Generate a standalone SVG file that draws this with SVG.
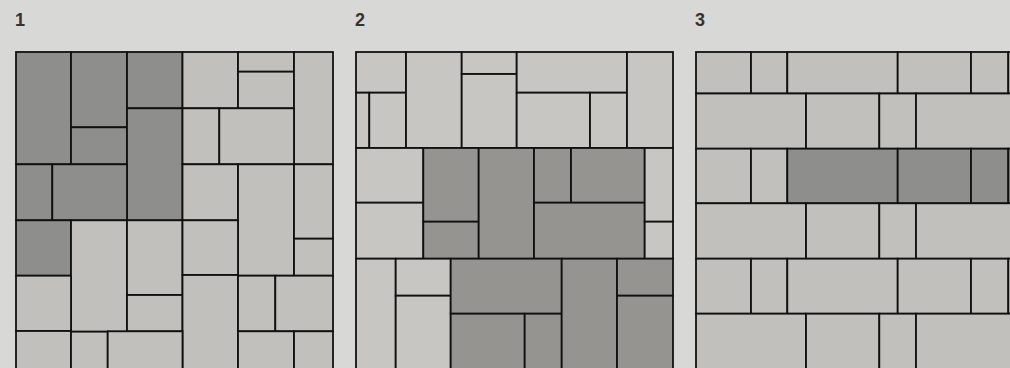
<svg xmlns="http://www.w3.org/2000/svg" width="1010" height="368" viewBox="0 0 1010 368">
<style>
rect.t{stroke:#111;stroke-width:1.8}
.l1{fill:#c1c0bc}.d1{fill:#8e8e8c}
.l2{fill:#c7c6c2}.d2{fill:#959491}
.lab{font-family:"Liberation Sans",Arial,sans-serif;font-size:18px;font-weight:bold;fill:#333}
</style>
<rect width="1010" height="368" fill="#d8d8d6"/>
<g id="labels">
<text class="lab" x="15" y="26">1</text>
<text class="lab" x="355" y="26">2</text>
<text class="lab" x="695" y="26">3</text>
</g>
<g id="panel1">
<rect class="t d1" x="16" y="52" width="55" height="112.3"/>
<rect class="t d1" x="71" y="52" width="56" height="75.3"/>
<rect class="t d1" x="71" y="127.3" width="56" height="37"/>
<rect class="t d1" x="127" y="52" width="55.5" height="56.3"/>
<rect class="t d1" x="127" y="108.3" width="55.5" height="112"/>
<rect class="t d1" x="16" y="164.3" width="36.3" height="56"/>
<rect class="t d1" x="52.3" y="164.3" width="74.7" height="56"/>
<rect class="t d1" x="16" y="220.3" width="55" height="55.4"/>
<rect class="t l1" x="182.5" y="52" width="55.5" height="56.3"/>
<rect class="t l1" x="238" y="52" width="56" height="19.7"/>
<rect class="t l1" x="238" y="71.7" width="56" height="36.6"/>
<rect class="t l1" x="294" y="52" width="39" height="112.3"/>
<rect class="t l1" x="182.5" y="108.3" width="36.8" height="56"/>
<rect class="t l1" x="219.3" y="108.3" width="74.7" height="56"/>
<rect class="t l1" x="182.5" y="164.3" width="55.5" height="56"/>
<rect class="t l1" x="238" y="164.3" width="56" height="111.4"/>
<rect class="t l1" x="294" y="164.3" width="39" height="74.4"/>
<rect class="t l1" x="294" y="238.7" width="39" height="37"/>
<rect class="t l1" x="71" y="220.3" width="56" height="111.4"/>
<rect class="t l1" x="127" y="220.3" width="55.5" height="74.7"/>
<rect class="t l1" x="127" y="295" width="55.5" height="36.3"/>
<rect class="t l1" x="182.5" y="220.3" width="55.5" height="54.7"/>
<rect class="t l1" x="182.5" y="275" width="55.5" height="95"/>
<rect class="t l1" x="16" y="275.7" width="55" height="55.3"/>
<rect class="t l1" x="16" y="331" width="55" height="39"/>
<rect class="t l1" x="71" y="331.7" width="36.7" height="38.3"/>
<rect class="t l1" x="107.7" y="331.3" width="74.8" height="38.7"/>
<rect class="t l1" x="238" y="275.7" width="37.3" height="55.6"/>
<rect class="t l1" x="275.3" y="275.7" width="57.7" height="55.6"/>
<rect class="t l1" x="238" y="331.3" width="56" height="38.7"/>
<rect class="t l1" x="294" y="331.3" width="39" height="38.7"/>
</g>
<g id="panel2">
<rect class="t l2" x="356" y="52" width="50" height="40.7"/>
<rect class="t l2" x="356" y="92.7" width="13.3" height="55.3"/>
<rect class="t l2" x="369.3" y="92.7" width="36.7" height="55.3"/>
<rect class="t l2" x="406" y="52" width="55.7" height="96"/>
<rect class="t l2" x="461.7" y="52" width="55" height="22"/>
<rect class="t l2" x="461.7" y="74" width="55" height="74"/>
<rect class="t l2" x="516.7" y="52" width="110.3" height="40.7"/>
<rect class="t l2" x="516.7" y="92.7" width="73.3" height="55.3"/>
<rect class="t l2" x="590" y="92.7" width="37" height="55.3"/>
<rect class="t l2" x="627" y="52" width="46" height="96"/>
<rect class="t l2" x="356" y="148" width="67.3" height="54.7"/>
<rect class="t l2" x="356" y="202.7" width="67.3" height="56"/>
<rect class="t d2" x="423.3" y="148" width="55.4" height="73.7"/>
<rect class="t d2" x="423.3" y="221.7" width="55.4" height="37"/>
<rect class="t d2" x="478.7" y="148" width="55.3" height="110.7"/>
<rect class="t d2" x="534" y="148" width="37" height="54.7"/>
<rect class="t d2" x="571" y="148" width="73.7" height="54.7"/>
<rect class="t d2" x="534" y="202.7" width="110.7" height="56"/>
<rect class="t l2" x="644.7" y="148" width="28.3" height="73.7"/>
<rect class="t l2" x="644.7" y="221.7" width="28.3" height="37"/>
<rect class="t l2" x="356" y="258.7" width="39.7" height="111.3"/>
<rect class="t l2" x="395.7" y="258.7" width="55" height="37"/>
<rect class="t l2" x="395.7" y="295.7" width="55" height="74.3"/>
<rect class="t d2" x="450.7" y="258.7" width="111" height="55"/>
<rect class="t d2" x="450.7" y="313.7" width="74" height="56.3"/>
<rect class="t d2" x="524.7" y="313.7" width="37" height="56.3"/>
<rect class="t d2" x="561.7" y="258.7" width="55.3" height="111.3"/>
<rect class="t d2" x="617" y="258.7" width="56" height="37"/>
<rect class="t d2" x="617" y="295.7" width="56" height="74.3"/>
</g>
<g id="panel3">
<rect class="t l1" x="696" y="52" width="55" height="41.5"/>
<rect class="t l1" x="751" y="52" width="36.3" height="41.5"/>
<rect class="t l1" x="787.3" y="52" width="110.4" height="41.5"/>
<rect class="t l1" x="897.7" y="52" width="73.3" height="41.5"/>
<rect class="t l1" x="971" y="52" width="37.3" height="41.5"/>
<rect class="t l1" x="1008.3" y="52" width="10" height="41.5"/>
<rect class="t l1" x="696" y="93.5" width="110" height="55.2"/>
<rect class="t l1" x="806" y="93.5" width="73.3" height="55.2"/>
<rect class="t l1" x="879.3" y="93.5" width="36.7" height="55.2"/>
<rect class="t l1" x="916" y="93.5" width="100" height="55.2"/>
<rect class="t l1" x="696" y="148.7" width="55" height="54.6"/>
<rect class="t l1" x="751" y="148.7" width="36.3" height="54.6"/>
<rect class="t d1" x="787.3" y="148.7" width="110.4" height="54.6"/>
<rect class="t d1" x="897.7" y="148.7" width="73.3" height="54.6"/>
<rect class="t d1" x="971" y="148.7" width="37.3" height="54.6"/>
<rect class="t d1" x="1008.3" y="148.7" width="10" height="54.6"/>
<rect class="t l1" x="696" y="203.3" width="110" height="55.4"/>
<rect class="t l1" x="806" y="203.3" width="73.3" height="55.4"/>
<rect class="t l1" x="879.3" y="203.3" width="36.7" height="55.4"/>
<rect class="t l1" x="916" y="203.3" width="100" height="55.4"/>
<rect class="t l1" x="696" y="258.7" width="55" height="55"/>
<rect class="t l1" x="751" y="258.7" width="36.3" height="55"/>
<rect class="t l1" x="787.3" y="258.7" width="110.4" height="55"/>
<rect class="t l1" x="897.7" y="258.7" width="73.3" height="55"/>
<rect class="t l1" x="971" y="258.7" width="37.3" height="55"/>
<rect class="t l1" x="1008.3" y="258.7" width="10" height="55"/>
<rect class="t l1" x="696" y="313.7" width="110" height="56.3"/>
<rect class="t l1" x="806" y="313.7" width="73.3" height="56.3"/>
<rect class="t l1" x="879.3" y="313.7" width="36.7" height="56.3"/>
<rect class="t l1" x="916" y="313.7" width="100" height="56.3"/>
</g>
</svg>
